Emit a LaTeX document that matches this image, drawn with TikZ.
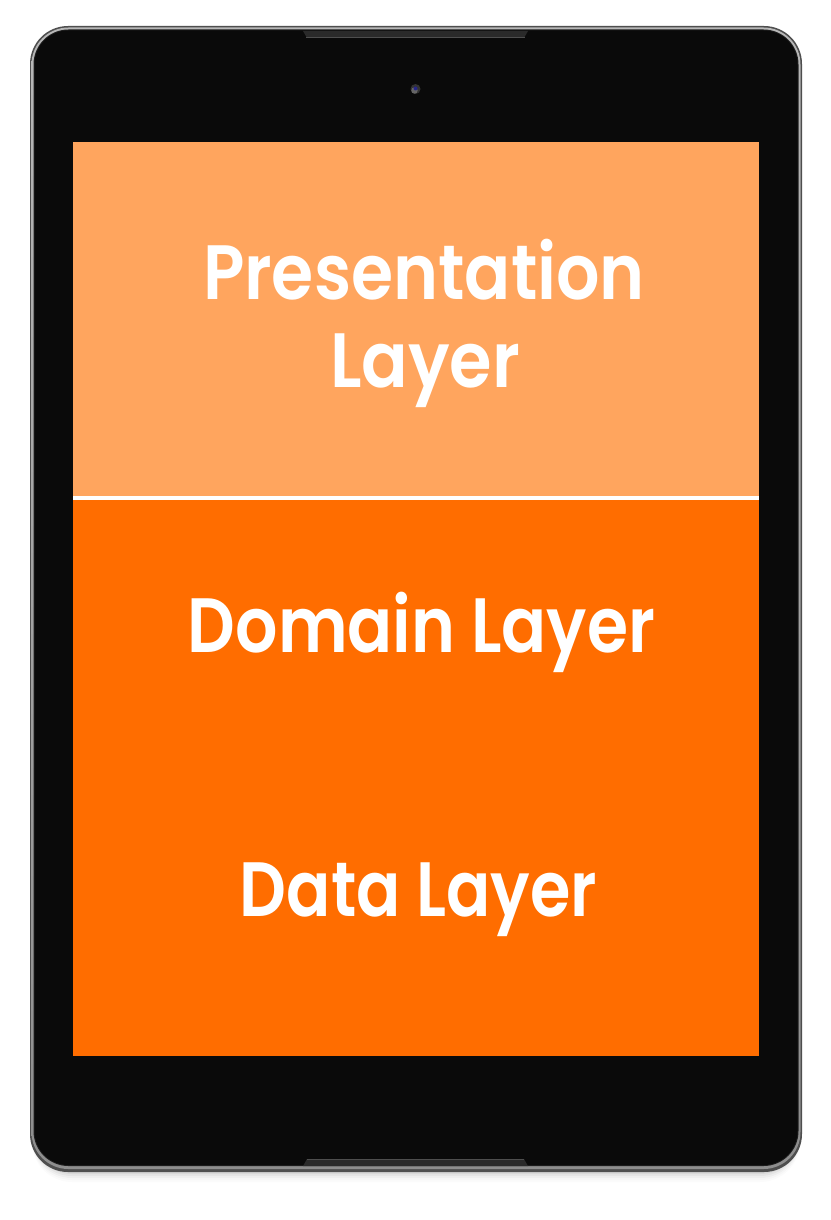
\documentclass[tikz,border=0pt]{standalone}
\usepackage{fontspec}
\usepackage{graphicx}
\newfontfamily\pop{Poppins}[BoldFont={* SemiBold}]
\definecolor{bezel}{HTML}{0A0A0A}
\definecolor{rimdark}{HTML}{4E4E4E}
\definecolor{rimlight}{HTML}{B8B8B8}
\definecolor{presc}{HTML}{FFA55E}
\definecolor{lowc}{HTML}{FF6D00}
\definecolor{notchc}{HTML}{2A2A2A}
\newcommand\fitw[2]{\resizebox{#1}{\height}{#2}}
\begin{document}
\begin{tikzpicture}[x=1pt,y=-1pt,
  screen/.style={draw=none, inner sep=0pt, outer sep=0pt},
  lbl/.style={text=white, inner sep=0pt, anchor=base, font=\pop\bfseries\fontsize{77}{88}\selectfont}]
\useasboundingbox (0,0) rectangle (830,1220);
\fill[white] (0,0) rectangle (830,1220);
% soft shadow
\foreach \d/\o in {2/0.05,4/0.04,6/0.03,8/0.02,10/0.015}{
  \fill[black, opacity=\o, rounded corners=40pt] (32,{30+\d}) rectangle (800,{1172+\d});
}
% tablet body
\fill[rimdark, rounded corners=38pt] (30,26) rectangle (802,1172);
\shade[top color=rimlight, bottom color=rimlight!60!rimdark, rounded corners=37pt] (31.5,27.5) rectangle (800.5,1169);
\fill[bezel!70!rimdark, rounded corners=35pt] (33.5,29.5) rectangle (798.5,1166);
\fill[bezel, rounded corners=34pt] (34.5,30.5) rectangle (797.5,1165);
% notches
\fill[notchc] (303,31) -- (528,31) -- (524,38) -- (307,38) -- cycle;
\draw[rimdark, line width=0.8pt] (306,37.5) -- (525,37.5);
\fill[notchc] (307,1159) -- (524,1159) -- (528,1166) -- (303,1166) -- cycle;
\draw[rimdark, line width=0.8pt] (307,1159.5) -- (524,1159.5);
% camera
\fill[black!80] (415.5,89) circle (5pt);
\fill[black!60] (414.5,90.5) circle (3.2pt);
\fill[blue!45!black!85!white] (415.5,88.5) circle (2pt);
% screen
\node[screen, fill=presc, minimum width=686pt, minimum height=354pt] (pres) at (416,319) {};
\node[screen, fill=white, minimum width=686pt, minimum height=4pt] (sep) at (416,498) {};
\node[screen, fill=lowc, minimum width=686pt, minimum height=556pt] (low) at (416,778) {};
% labels
\node[lbl] (presA) at (424,299) {\fitw{442pt}{Presentation}};
\node[lbl] (presB) at (425,387) {\fitw{190pt}{Layer}};
\node[lbl] (domain) at (421.5,652) {\fitw{467pt}{Domain Layer}};
\node[lbl] (data) at (418.5,916) {\fitw{357pt}{Data Layer}};
\end{tikzpicture}
\end{document}
